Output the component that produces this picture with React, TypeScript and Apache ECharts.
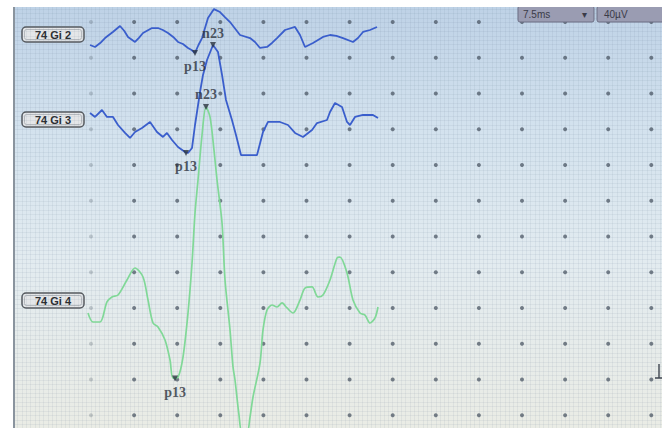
import React, { useEffect, useRef } from 'react';
import * as echarts from 'echarts';

// ---- data (time in ms, amplitude in µV relative to each channel's baseline) ----
const channelLabels = ['74 Gi 2', '74 Gi 3', '74 Gi 4'];
const sweepLabel = '7.5ms';
const gainLabel = '40µV';
const MS_PER_DIV = 7.5;
const UV_PER_DIV = 40;

const gi2Trace: [number, number][] = [
  [-0.17, -11.2], [0.7, -13.4], [1.6, -9.0], [2.44, -3.4], [3.8, 3.4], [5.05, 10.1], [5.8, 4.5], [6.44, -2.2],
  [7.66, -7.8], [8.3, -3.4], [9.05, 2.2], [10.61, 7.8], [11.66, 7.8], [12.5, 5.6], [13.4, 2.2],
  [14.3, -2.2], [15.14, -7.8], [16.0, -10.1], [16.88, -14.5], [17.5, -16.8], [18.1, -20.1], [18.7, -11.2],
  [19.32, -3.4], [20.36, 19.0], [21.4, 29.0], [22.45, 25.7], [23.3, 20.1], [24.19, 14.5], [25.93, 0],
  [27.67, -3.4], [28.54, -7.8], [29.41, -14.5], [30.63, -13.4], [31.5, -8.9], [32.37, -3.4], [33.76, 5.6],
  [35.5, 9.0], [36.37, 0], [37.24, -13.4], [38.63, -9.0], [40.37, -2.2], [41.59, 0], [42.7, -1.1],
  [43.85, -3.4], [45.59, -7.8], [46.46, -3.4], [47.33, 3.4], [48.55, 5.6], [49.77, 9.0],
];

const gi3Trace: [number, number][] = [
  [-0.17, 7.8], [0.7, 3.4], [1.91, 11.2], [2.78, 3.4], [3.83, 3.4], [4.7, -5.6], [5.92, -14.5], [6.79, -20.1],
  [7.66, -13.4], [8.87, -9.0], [10.27, -2.2], [11.48, -13.4], [12.53, -19.0], [13.22, -14.5], [14.1, -22.4],
  [15.14, -30.2], [16.36, -35.8], [16.88, -36.9], [17.58, -31.3], [18.1, -5.6], [18.97, 31.3], [19.49, 50.4],
  [20.19, 67.1], [21.23, 83.9], [22.1, 76.1], [22.8, 50.4], [23.49, 22.4], [24.53, 0], [25.23, -16.8],
  [26.1, -39.2], [27.67, -39.2], [28.89, -39.2], [29.93, -13.4], [30.8, -2.2], [32.89, -2.2], [34.28, -5.6],
  [35.5, -14.5], [36.89, -19.0], [38.46, -11.2], [39.33, -3.4], [41.07, 0], [41.59, 9.0], [42.46, 19.0],
  [43.68, 14.5], [44.55, -2.2], [45.07, -5.6], [45.94, 3.4], [47.33, 5.6], [49.07, 5.6], [49.94, 2.2],
];

const gi4Trace: [number, number][] = [
  [-0.52, -13.4], [0.35, -23.5], [1.57, -23.5], [2.78, -1.1], [3.65, 4.5], [4.7, 6.7], [6.26, 23.5],
  [7.66, 36.9], [9.05, 26.9], [9.92, 1.1], [10.79, -24.6], [11.66, -29.1], [12.88, -43.6], [13.75, -66.0],
  [14.27, -86.2], [15.14, -85.0], [16.01, -62.7], [16.88, -13.4], [17.58, 42.5], [18.1, 98.5], [18.62, 135.4],
  [19.32, 185.7], [20.01, 217.1], [20.71, 206.0], [21.4, 169.0], [21.93, 135.4], [22.8, 87.3], [23.32, 23.5],
  [24.19, -32.4], [24.71, -73.8], [25.06, -88.4], [25.75, -127.5], [26.27, -146.6], [27.15, -146.6],
  [27.67, -130.0], [28.19, -107.4], [29.41, -69.4], [29.93, -32.4], [30.63, -10.1], [31.5, -4.5],
  [32.37, -6.7], [33.24, -2.2], [34.11, -7.8], [35.15, -13.4], [36.37, 1.1], [37.24, 14.5], [38.46, 15.7],
  [39.5, 4.5], [40.37, 6.7], [41.59, 23.5], [42.81, 48.1], [43.33, 49.2], [44.55, 31.3], [45.59, 1.1],
  [46.81, -13.4], [47.68, -15.7], [48.55, -24.6], [49.42, -19.0], [49.94, -6.7],
];

const gi2Peaks: [number, number, string][] = [[18.1, -20.1, 'p13']];
const gi3Peaks: [number, number, string][] = [[21.23, 83.9, 'n23'], [16.53, -36.9, 'p13']];
const gi4Peaks: [number, number, string][] = [[20.01, 217.1, 'n23'], [14.62, -86.6, 'p13']];

// ---- layout ----
const W = 662;
const H = 428;
const PX_X = 43.1;
const PX_Y = 35.75;
const FINE_Y = 8; // fine lines per vertical division
const GRID_LEFT = 91 - 2 * PX_X;
const X_MIN = -2 * MS_PER_DIV;
const X_MAX = X_MIN + ((W - GRID_LEFT) / PX_X) * MS_PER_DIV;
const FIRST_ROW_PX = 22;
const BASELINES = [35, 120, 301];
const COLORS = ['#3a5ecc', '#3a5ecc', '#80d897'];
const BOX_TOPS = [27, 112, 293];

export default function App() {
  const ref = useRef<HTMLDivElement>(null);
  useEffect(() => {
    if (!ref.current) return;
    const chart = echarts.init(ref.current, undefined, { renderer: 'svg' });
    const fine = { show: true, lineStyle: { color: 'rgba(100,120,140,0.09)', width: 1 } };

    // y axis 0 measured in fine grid steps from the top edge
    const fineStep = PX_Y / FINE_Y;
    const yFineMax = H / fineStep;
    const firstRow = FIRST_ROW_PX / fineStep;

    const dots: any[] = [];
    for (let c = 0; c <= 13; c++)
      for (let r = 0; r <= 11; r++)
        dots.push({ value: [c * MS_PER_DIV, firstRow + r * FINE_Y], itemStyle: { opacity: c === 0 ? 0.25 : 0.72 } });

    const yAxes: any[] = [
      {
        type: 'value', inverse: true, min: 0, max: yFineMax, interval: 1,
        axisLine: { show: false }, axisTick: { show: false }, axisLabel: { show: false },
        splitLine: fine,
      },
      ...BASELINES.map((b) => ({
        type: 'value', show: false,
        max: (b / PX_Y) * UV_PER_DIV,
        min: (-(H - b) / PX_Y) * UV_PER_DIV,
      })),
    ];

    const traces = [gi2Trace, gi3Trace, gi4Trace];
    const peaks = [gi2Peaks, gi3Peaks, gi4Peaks];

    const series: any[] = [
      {
        type: 'scatter', xAxisIndex: 0, yAxisIndex: 0, data: dots, symbolSize: 4, silent: true,
        itemStyle: { color: '#46525f' }, z: 1,
      },
      ...traces.map((t, i) => ({
        type: 'line', xAxisIndex: 0, yAxisIndex: i + 1, data: t, showSymbol: false,
        smooth: i === 2 ? 0.3 : false,
        lineStyle: { color: COLORS[i], width: i === 2 ? 1.7 : 1.8 }, z: 3,
      })),
      ...peaks.map((p, i) => ({
        type: 'scatter', xAxisIndex: 0, yAxisIndex: i + 1, symbol: 'triangle', symbolRotate: 180,
        symbolSize: 6, itemStyle: { color: '#2c3440' }, z: 4,
        data: p.map(([x, y, name]) => ({
          value: [x, y], name,
          label: {
            show: true, formatter: name, position: name === 'n23' ? 'top' : 'bottom', distance: name === 'n23' ? 2 : 4,
            fontFamily: 'Liberation Serif', fontWeight: 'bold', fontSize: 14, color: '#2b323c',
          },
        })),
      })),
    ];

    const graphic: any[] = [
      ...channelLabels.map((txt, i) => ({
        type: 'group', x: 22, y: BOX_TOPS[i], z: 10,
        children: [
          { type: 'rect', shape: { x: 0, y: 0, width: 62, height: 15, r: 4 }, style: { fill: '#e4e6e8', stroke: '#55595e', lineWidth: 1.5 } },
          { type: 'rect', shape: { x: 2.5, y: 2.5, width: 57, height: 10, r: 2 }, style: { fill: 'none', stroke: '#a8adb2', lineWidth: 0.8 } },
          { type: 'text', x: 31, y: 7.5, style: { text: txt, fill: '#2a2d31', font: 'bold 11px "Liberation Sans"', align: 'center', verticalAlign: 'middle' } },
        ],
      })),
      { type: 'rect', z: 20, shape: { x: 518, y: 6, width: 76, height: 16, r: 2 }, style: { fill: '#9a9cb2', stroke: '#6c6e84', lineWidth: 1 } },
      { type: 'text', z: 21, x: 523, y: 14, style: { text: sweepLabel, fill: '#3a3b48', font: '10px "Liberation Sans"', verticalAlign: 'middle' } },
      { type: 'text', z: 21, x: 582, y: 14, style: { text: '▾', fill: '#3a3b48', font: '10px "DejaVu Sans"', verticalAlign: 'middle' } },
      { type: 'rect', z: 20, shape: { x: 597, y: 6, width: 70, height: 16, r: 2 }, style: { fill: '#9a9cb2', stroke: '#6c6e84', lineWidth: 1 } },
      { type: 'text', z: 21, x: 604, y: 14, style: { text: gainLabel, fill: '#3a3b48', font: '10px "Liberation Sans"', verticalAlign: 'middle' } },
      { type: 'polyline', z: 20, shape: { points: [[659, 364], [659, 378], [655, 378], [662, 378]] }, style: { stroke: '#3f4650', lineWidth: 1.4, fill: 'none' } },
      { type: 'rect', z: 30, shape: { x: 0, y: 0, width: W, height: 7 }, style: { fill: '#ffffff' } },
      { type: 'rect', z: 30, shape: { x: 0, y: 0, width: 13, height: H }, style: { fill: '#ffffff' } },
      { type: 'line', z: 31, shape: { x1: 14, y1: 7, x2: 14, y2: H }, style: { stroke: '#8a949e', lineWidth: 2 } },
    ];

    chart.setOption({
      animation: false,
      backgroundColor: 'transparent',
      grid: { left: GRID_LEFT, top: 0, right: 0, bottom: 0, containLabel: false },
      xAxis: {
        type: 'value', min: X_MIN, max: X_MAX, interval: MS_PER_DIV,
        axisLine: { show: false }, axisTick: { show: false }, axisLabel: { show: false },
        splitLine: fine, minorTick: { show: false, splitNumber: 10 }, minorSplitLine: fine,
      },
      yAxis: yAxes,
      series,
      graphic,
    });
    return () => chart.dispose();
  }, []);

  return (
    <div
      ref={ref}
      style={{
        position: 'fixed', left: 0, top: 0, width: W, height: H,
        background: 'linear-gradient(180deg, #bdd1e6 0%, #d3e2ee 30%, #e2ebf0 60%, #eaece5 100%)',
      }}
    />
  );
}
